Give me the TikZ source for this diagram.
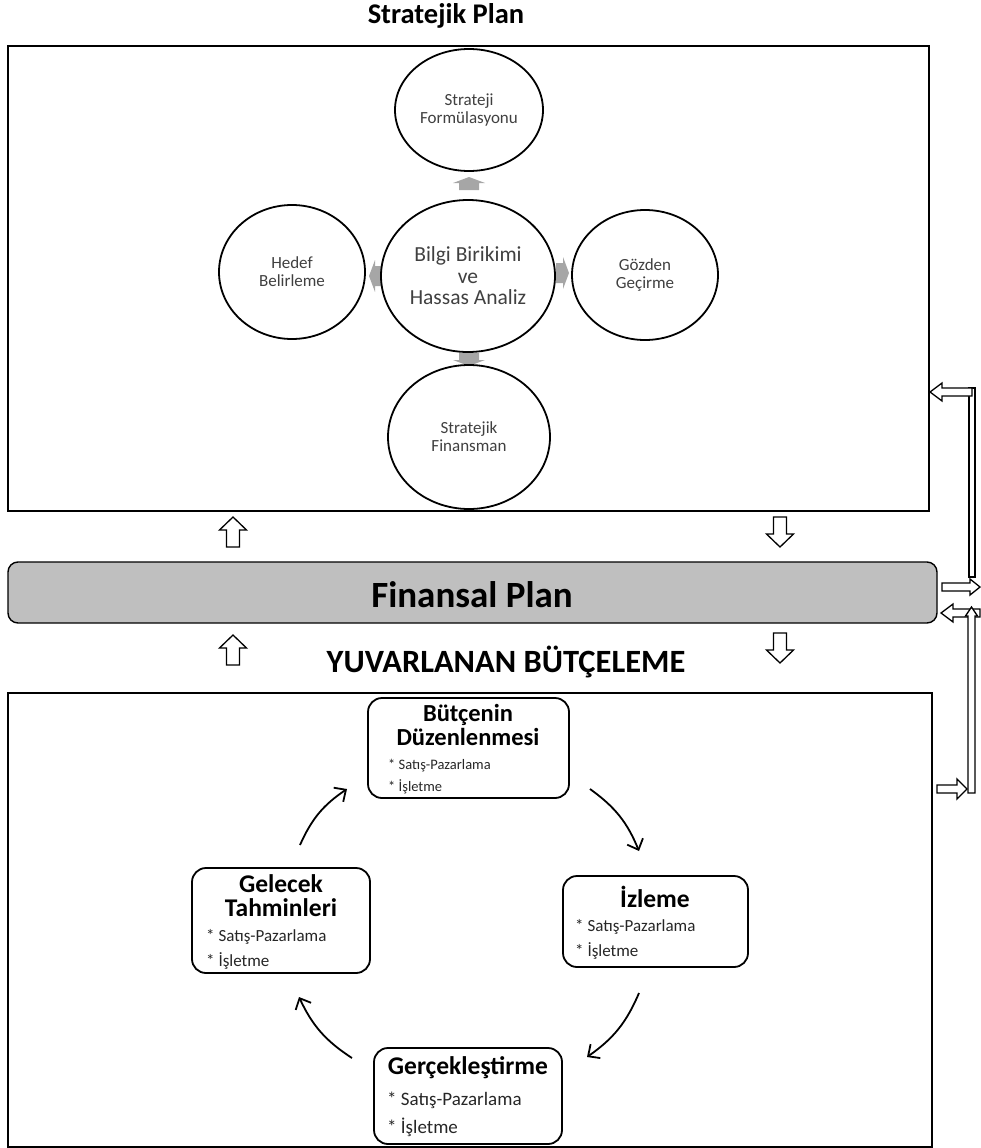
\documentclass[tikz,border=0pt]{standalone}
\usepackage{fontspec}
\setmainfont{Carlito}
\usetikzlibrary{shapes.geometric,arrows.meta}
\definecolor{bargray}{HTML}{BFBFBF}
\definecolor{arrgray}{HTML}{A6A6A6}
\definecolor{txtgray}{HTML}{404040}
\definecolor{bulgray}{HTML}{262626}
% hollow block arrow: tip x, tip y, angle, length, head half-width, head length, shaft half-width
\newcommand{\holarrow}[7]{%
  \begin{scope}[shift={(#1,#2)},rotate=#3]
    \draw[hol] (0,0) -- (-#6,#5) -- (-#6,#7) -- (-#4,#7) -- (-#4,-#7) -- (-#6,-#7) -- (-#6,-#5) -- cycle;
  \end{scope}}
% small gray block arrow: tip x, tip y, angle
\newcommand{\grarrow}[3]{%
  \begin{scope}[shift={(#1,#2)},rotate=#3]
    \fill[arrgray] (0,0) -- (-6,16) -- (-6,10) -- (-13,10) -- (-13,-10) -- (-6,-10) -- (-6,-16) -- cycle;
  \end{scope}}
\begin{document}
\begin{tikzpicture}[x=1pt,y=-1pt,
  hol/.style={line width=1.3pt,fill=white,line join=miter},
  frame/.style={draw,line width=1.2pt},
  ell/.style={draw,ellipse,line width=1.8pt,fill=white,inner sep=0pt,align=center,text=txtgray,font=\fontsize{17}{18}\selectfont},
  cbox/.style={draw,rounded corners=14pt,line width=1.8pt,inner sep=0pt},
  ttl/.style={font=\bfseries\fontsize{25.5}{24}\selectfont,align=center,inner sep=0pt},
  bul/.style={anchor=west,inner sep=0pt,text=bulgray},
  cyc/.style={line width=1.8pt,-{Straight Barb[length=9pt,width=17pt,line width=1.8pt]}}
]
\useasboundingbox (0,0) rectangle (980,1148);

% ---------- Strategic plan ----------
\node[font=\bfseries\fontsize{28.5}{30}\selectfont,inner sep=0pt] (tsp) at (446,16) {Stratejik Plan};
\node[frame,minimum width=921pt,minimum height=465pt,inner sep=0pt] (sp) at (468.5,278.5) {};

\grarrow{469}{177}{90}
\grarrow{369}{276}{180}
\grarrow{569}{273}{0}
\grarrow{469}{366}{270}

\node[ell,minimum width=148pt,minimum height=122pt] (sf) at (469,110) {Strateji\\Formülasyonu};
\node[ell,minimum width=174pt,minimum height=152pt,font=\fontsize{21.5}{21.5}\selectfont] (bb) at (468,276) {Bilgi Birikimi\\ve\\Hassas Analiz};
\node[ell,minimum width=146pt,minimum height=134pt] (hb) at (292,272) {Hedef\\Belirleme};
\node[ell,minimum width=146pt,minimum height=130pt] (gg) at (645,275) {Gözden\\Geçirme};
\node[ell,minimum width=162pt,minimum height=144pt] (sfin) at (469,437) {Stratejik\\Finansman};

% ---------- Financial plan bar ----------
\node[draw,fill=bargray,rounded corners=10pt,line width=1.4pt,minimum width=929pt,minimum height=61pt,inner sep=0pt] (fp) at (472.5,592.5) {};
\node[font=\bfseries\fontsize{37}{38}\selectfont,inner sep=0pt] (tfp) at (472,595) {Finansal Plan};

\holarrow{233}{517}{90}{30}{13.5}{13}{6.5}
\holarrow{233}{635}{90}{30}{13.5}{13}{6.5}
\holarrow{780}{547}{270}{30}{13.5}{13}{6.5}
\holarrow{780}{663}{270}{30}{13.5}{13}{6.5}

\node[font=\bfseries\fontsize{32.5}{34}\selectfont,inner sep=0pt] (tyb) at (506,662) {YUVARLANAN BÜTÇELEME};

% ---------- right side connectors ----------
\draw[hol] (969,388) rectangle (975,577);
\holarrow{930}{392}{180}{42}{9}{12}{4}
\holarrow{980}{587}{0}{38}{8}{10}{4}
\holarrow{941}{613}{180}{39}{9}{12}{4}
\holarrow{971.5}{607}{90}{186}{6}{9}{3.5}
\holarrow{967}{789}{0}{30}{10}{10}{4}

% ---------- Rolling budget ----------
\node[frame,minimum width=924pt,minimum height=454pt,inner sep=0pt] (yb) at (470,920) {};

\node[cbox,minimum width=201pt,minimum height=100pt] (bd) at (468.5,748) {};
\node[ttl,font=\bfseries\fontsize{24.5}{24}\selectfont] (bdt) at (468,725) {Bütçenin\\Düzenlenmesi};
\node[bul,font=\fontsize{14.5}{15}\selectfont] (bd1) at (388,766) {* Satış-Pazarlama};
\node[bul,font=\fontsize{14.5}{15}\selectfont] (bd2) at (388,787) {* İşletme};

\node[cbox,minimum width=185pt,minimum height=91pt] (iz) at (655.5,921.5) {};
\node[ttl] (izt) at (655,897) {İzleme};
\node[bul,font=\fontsize{17}{18}\selectfont] (iz1) at (575,927) {* Satış-Pazarlama};
\node[bul,font=\fontsize{17}{18}\selectfont] (iz2) at (575,951) {* İşletme};

\node[cbox,minimum width=178pt,minimum height=105pt] (gt) at (281,920.5) {};
\node[ttl] (gtt) at (281,895.5) {Gelecek\\Tahminleri};
\node[bul,font=\fontsize{17}{18}\selectfont] (gt1) at (206,937) {* Satış-Pazarlama};
\node[bul,font=\fontsize{17}{18}\selectfont] (gt2) at (206,961) {* İşletme};

\node[cbox,minimum width=188pt,minimum height=96pt] (ge) at (468,1096) {};
\node[ttl] (get) at (468,1068) {Gerçekleştirme};
\node[bul,font=\fontsize{19}{20}\selectfont] (ge1) at (387,1100) {* Satış-Pazarlama};
\node[bul,font=\fontsize{19}{20}\selectfont] (ge2) at (387,1127) {* İşletme};

% cycle arrows
\coordinate (c1s) at (590,789);  \coordinate (c1e) at (639,851);
\coordinate (c2s) at (639,993);  \coordinate (c2e) at (587,1057);
\coordinate (c3s) at (352,1058); \coordinate (c3e) at (299,997);
\coordinate (c4s) at (300,845);  \coordinate (c4e) at (347,789);
\draw[cyc] (c1s) to[bend left=16] (c1e);
\draw[cyc] (c2s) to[bend left=16] (c2e);
\draw[cyc] (c3s) to[bend left=16] (c3e);
\draw[cyc] (c4s) to[bend left=16] (c4e);
\end{tikzpicture}
\end{document}
